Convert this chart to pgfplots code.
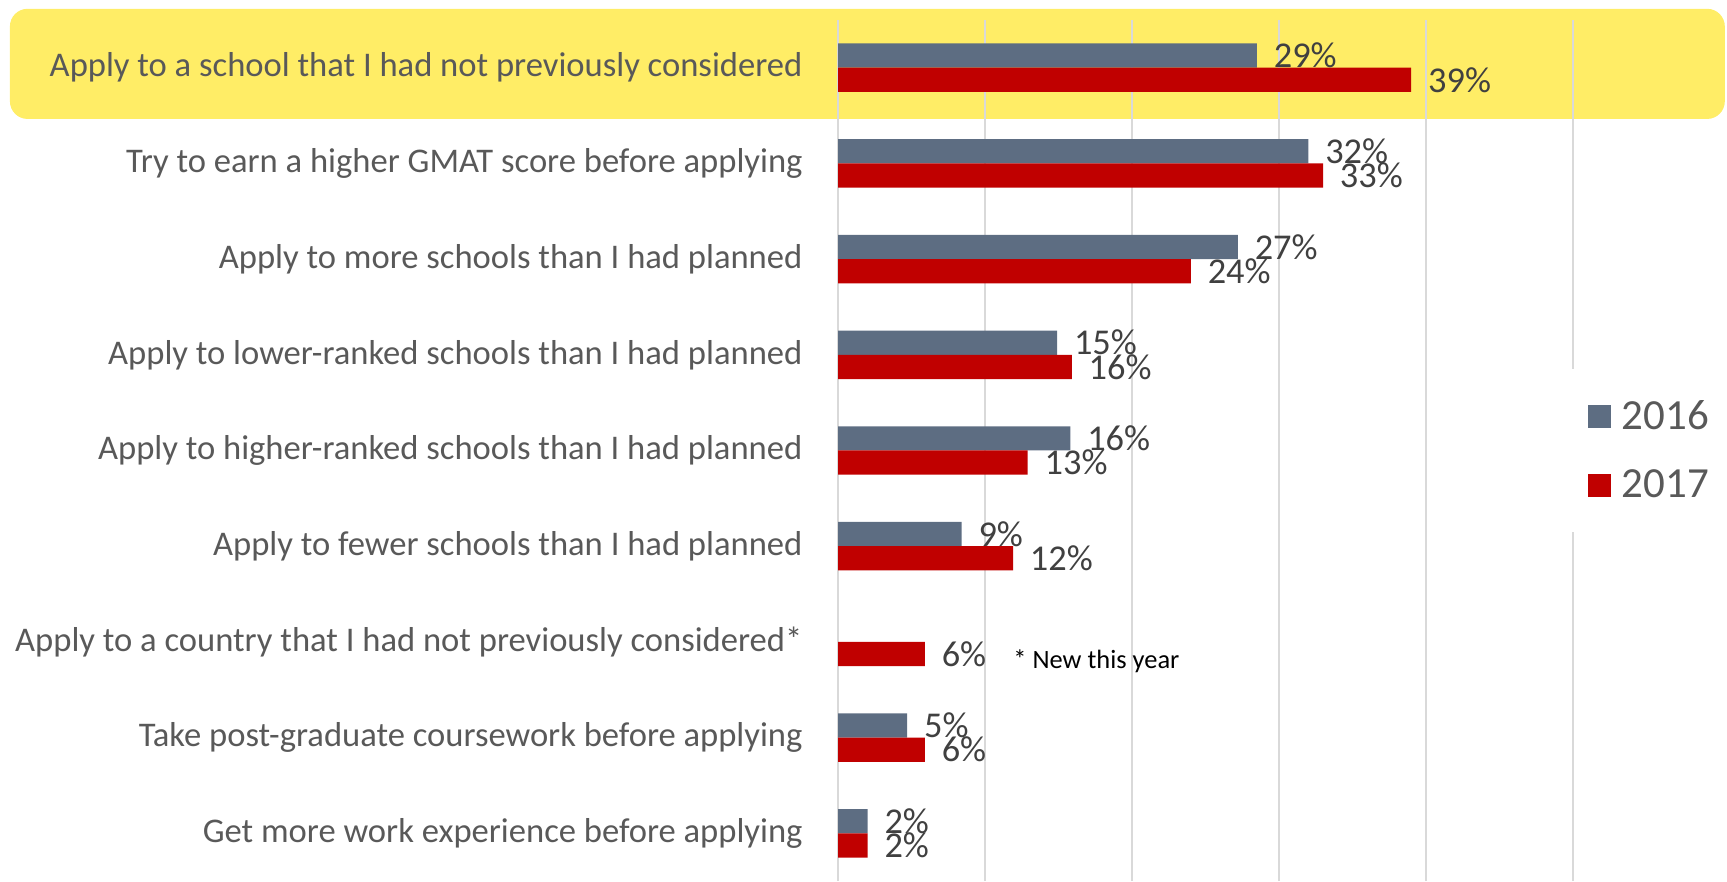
\documentclass[border=0pt]{standalone}
\usepackage{pgfplots}
\pgfplotsset{compat=1.18}
\usepackage{pgfplotstable}
\usepackage{fontspec}
\setmainfont{Carlito}

\definecolor{c2016}{HTML}{5D6D82}
\definecolor{c2017}{HTML}{C00000}
\definecolor{labgray}{HTML}{595959}
\definecolor{valgray}{HTML}{404040}
\definecolor{hilite}{HTML}{FFED66}
\definecolor{gridgray}{HTML}{D9D9D9}

% idx 8 = top row
\pgfplotstableread{
idx v   lab
8   28.5 29
7   32.0 32
6   27.2 27
5   14.9 15
4   15.8 16
3   8.4  9
1   4.7  5
0   2.0  2
}\dataA
\pgfplotstableread{
idx v   lab
8   39.0 39
7   33.0 33
6   24.0 24
5   15.9 16
4   12.9 13
3   11.9 12
2   5.9  6
1   5.9  6
0   2.0  2
}\dataB

\begin{document}
\begin{tikzpicture}
  \useasboundingbox (0,0) rectangle (784pt,400pt);
  % highlighted first row
  \fill[hilite, rounded corners=8pt] (4.5pt,346pt) rectangle (783pt,396pt);

  \begin{axis}[
    at={(380.5pt,0pt)}, anchor=south west,
    scale only axis,
    width=333.5pt, height=391pt,
    xmin=0, xmax=50,
    ymin=-0.5, ymax=8.5,
    xbar, bar width=11pt,
    clip=false,
    axis line style={draw=none},
    major tick length=0pt,
    xtick={0,10,...,50}, xticklabels={},
    xmajorgrids, grid style={gridgray, line width=0.9pt},
    ytick={0,...,8},
    yticklabels={
      Get more work experience before applying,
      Take post-graduate coursework before applying,
      Apply to a country that I had not previously considered*,
      Apply to fewer schools than I had planned,
      Apply to higher-ranked schools than I had planned,
      Apply to lower-ranked schools than I had planned,
      Apply to more schools than I had planned,
      Try to earn a higher GMAT score before applying,
      Apply to a school that I had not previously considered},
    yticklabel style={font=\fontsize{15.7}{18}\selectfont, text=labgray,
      anchor=east, inner sep=0pt, xshift=-16pt},
    point meta=explicit symbolic,
    nodes near coords={\pgfplotspointmeta\%},
    nodes near coords style={font=\fontsize{16.5}{18}\selectfont, text=valgray,
      anchor=west, inner sep=0pt, xshift=7.5pt},
    legend style={at={(0.9895,0.5)}, anchor=west, draw=none, fill=white,
      inner xsep=10pt, inner ysep=14pt,
      font=\fontsize{19.5}{22}\selectfont, text=labgray,
      row sep=17pt,
      nodes={inner sep=0pt, anchor=west},
      /tikz/every odd column/.append style={column sep=5pt}},
    legend cell align=left,
    legend image code/.code={\fill[#1] (0pt,-5.25pt) rectangle (10.5pt,5.25pt);},
  ]
    \addplot[fill=c2016, draw=none, bar shift=5.5pt]
      table[x=v, y=idx, meta=lab] {\dataA};
    \addplot[fill=c2017, draw=none, bar shift=-5.5pt]
      table[x=v, y=idx, meta=lab] {\dataB};
    \legend{2016,2017}
    \node[anchor=west, inner sep=0pt, font=\fontsize{12}{14}\selectfont, text=black]
      at (axis cs:11.9,1.8) {* New this year};
  \end{axis}
\end{tikzpicture}
\end{document}
